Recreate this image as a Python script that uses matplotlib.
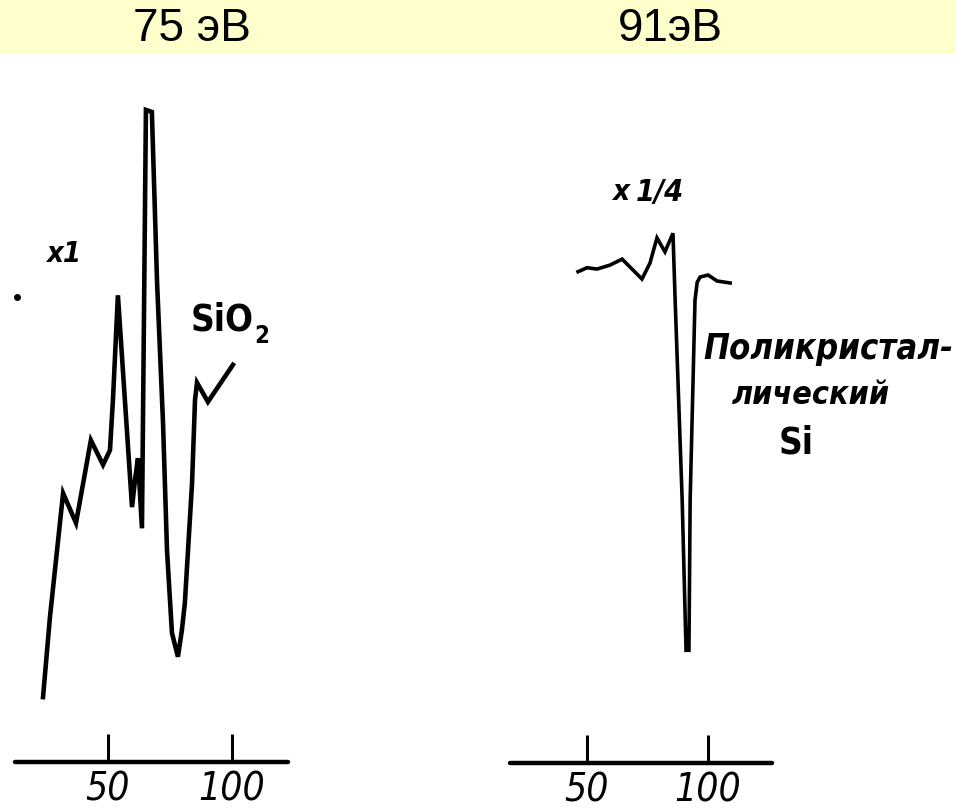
import matplotlib
matplotlib.use("Agg")
import matplotlib.pyplot as plt
from matplotlib import font_manager as fm
from matplotlib.patches import Rectangle

# ---- data ----
titles = ["75 эВ", "91эВ"]
tick_values = [50, 100]
tick_labels = ["50", "100"]

# SiO2 spectrum, 75 eV primary energy (x1)
sio2_energy = [23.8, 26.6, 31.9, 37.1, 43.1, 48.0, 50.8, 52.0, 54.0, 59.7, 60.9,
               62.1, 63.7, 65.3, 67.7, 69.8, 72.2, 73.8, 75.8, 78.2, 79.8, 81.0,
               83.9, 85.1, 85.9, 90.3, 100.4]
sio2_signal = [9.8, 21.9, 40.6, 36.1, 48.6, 44.9, 47.1, 54.7, 70.5, 38.5, 42.6,
               45.9, 35.3, 98.5, 98.2, 72.4, 51.2, 32.0, 19.5, 15.9, 19.9, 24.0,
               42.1, 54.7, 57.3, 54.4, 60.0]
stray_dot = (13.3, 70.2)

# polycrystalline Si spectrum, 91 eV primary energy (x1/4)
si_energy = [46.3, 50.0, 54.1, 59.5, 64.5, 72.7, 76.0, 78.9, 82.2, 85.5, 86.4,
             89.3, 90.9, 92.1, 92.6, 94.6, 95.5, 96.7, 100.0, 103.7, 109.1]
si_signal = [74.1, 74.7, 74.5, 75.1, 76.0, 73.0, 75.4, 79.2, 77.1, 79.9, 69.8,
             39.7, 17.0, 17.0, 39.7, 69.8, 72.5, 73.3, 73.6, 72.7, 72.4]

# ---- fonts ----
names = {f.name for f in fm.fontManager.ttflist}
if 'Liberation Sans Narrow' in names:
    narrow, stretch = 'Liberation Sans Narrow', 'normal'
elif 'DejaVu Sans Condensed' in names:
    narrow, stretch = 'DejaVu Sans Condensed', 'normal'
else:
    narrow, stretch = 'DejaVu Sans', 'condensed'
arial = 'Liberation Sans' if 'Liberation Sans' in names else 'DejaVu Sans'
fam_n = [narrow, 'DejaVu Sans']

W, H = 956, 811
fig = plt.figure(figsize=(W / 100, H / 100), dpi=100)
fig.patch.set_facecolor('white')
renderer = fig.canvas.get_renderer()


def fx(x):
    return x / W


def fy(y):
    return 1 - y / H


def fit(t, width_px):
    """scale a text's font size so that its rendered width matches width_px"""
    fs = t.get_fontsize()
    w = t.get_window_extent(renderer=renderer).width
    if w > 0:
        t.set_fontsize(fs * width_px / w)
    return t


# banner
fig.patches.append(Rectangle((0, fy(53)), 1, 53 / H, transform=fig.transFigure,
                             facecolor='#FFFFCC', edgecolor='none', zorder=0))
fig.text(fx(192), fy(29), titles[0], ha='center', va='center', fontsize=33,
         family=[arial, 'DejaVu Sans'], color='black')
fig.text(fx(670), fy(29), titles[1], ha='center', va='center', fontsize=33,
         family=[arial, 'DejaVu Sans'], color='black')


def make_axes(x0, x1, ybase, xlim):
    ax = fig.add_axes([fx(x0), fy(ybase), (x1 - x0) / W, (ybase - 100) / H])
    ax.set_xlim(*xlim)
    ax.set_ylim(0, 100)
    ax.patch.set_alpha(0)
    for s in ['left', 'right', 'top']:
        ax.spines[s].set_visible(False)
    ax.spines['bottom'].set_linewidth(3.2)
    ax.spines['bottom'].set_capstyle('round')
    ax.set_yticks([])
    ax.set_xticks(tick_values)
    ax.set_xticklabels(tick_labels)
    ax.tick_params(axis='x', direction='in', length=20, width=2.2, pad=6,
                   labelsize=28)
    for lab in ax.get_xticklabels():
        lab.set_family(fam_n)
        lab.set_stretch(stretch)
        lab.set_style('italic')
    return ax


ax1 = make_axes(15, 288, 762, (12.5, 122.6))
ax1.plot(sio2_energy, sio2_signal, color='black', lw=3.3, solid_joinstyle='miter',
         clip_on=False)
ax1.plot([stray_dot[0]], [stray_dot[1]], 'o', color='black', ms=4, clip_on=False)

ax2 = make_axes(510, 772, 763, (18.2, 126.4))
ax2.plot(si_energy, si_signal, color='black', lw=2.6, solid_joinstyle='miter',
         clip_on=False)


def label(x, y, s, width, italic=True, ha='left', va='center'):
    t = fig.text(fx(x), fy(y), s, ha=ha, va=va, fontsize=30, family=fam_n,
                 stretch=stretch, style='italic' if italic else 'normal',
                 weight='bold')
    return fit(t, width)


# annotations
label(46, 254, "x1", 35)
label(191, 320, "SiO", 63, italic=False)
label(254, 336, "2", 15, italic=False)
label(612, 192, "x", 17)
label(636, 192, "1/4", 48)
label(703, 349, "Поликристал-", 250)
label(732, 395, "лический", 158)
label(779, 443, "Si", 35, italic=False)

fig.savefig("out.png", dpi=100)
